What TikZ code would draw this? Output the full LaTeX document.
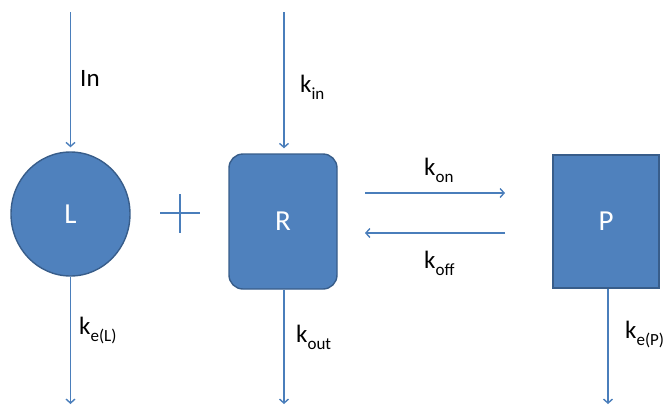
\documentclass[tikz,border=0pt]{standalone}
\usepackage{fontspec}
\setmainfont{Carlito}
\usetikzlibrary{shapes.geometric,arrows.meta}
\definecolor{boxfill}{HTML}{4F81BD}
\definecolor{boxedge}{HTML}{385D8A}
\definecolor{arrcol}{HTML}{4A7EBB}
\newcommand{\ksb}[1]{k\raisebox{-0.28em}{\fontsize{17}{17}\selectfont #1}}
\begin{document}
\begin{tikzpicture}[x=1pt,y=-1pt,
  blob/.style={fill=boxfill,draw=boxedge,line width=1.4pt,text=white,font=\fontsize{29}{29}\selectfont,inner sep=0pt},
  arr/.style={draw=arrcol,line width=1.6pt,-{Straight Barb[length=4pt,width=9pt,line width=1.4pt]}},
  lbl/.style={font=\fontsize{25}{25}\selectfont,inner sep=0pt,text=black}]
\useasboundingbox (0,0) rectangle (665,405);
\node[blob,ellipse,minimum width=119pt,minimum height=124pt] (L) at (70.5,214) {L};
\node[blob,rectangle,rounded corners=14pt,minimum width=108pt,minimum height=135pt] (R) at (283,221.5) {R};
\node[blob,rectangle,minimum width=106pt,minimum height=133pt] (P) at (606,221.5) {P};
% plus sign
\draw[arrcol,line width=1.6pt] (160,213) -- (200,213) (180,194) -- (180,233);
% free ends
\coordinate (Lin) at (70.5,12);
\coordinate (Lout) at (70.5,404);
\coordinate (Rin) at (284,12);
\coordinate (Rout) at (284,404);
\coordinate (Pout) at (608,404);
\coordinate (kon1) at (365,193);
\coordinate (kon2) at (505,193);
\coordinate (koff1) at (505,233);
\coordinate (koff2) at (365,233);
\draw[arr,shorten >=4pt] (Lin) -- (L.north);
\draw[arr] (L.south) -- (Lout);
\draw[arr,shorten >=5pt] (Rin) -- (R.north -| Rin);
\draw[arr] (R.south -| Rout) -- (Rout);
\draw[arr] (P.south -| Pout) -- (Pout);
\draw[arr] (kon1) -- (kon2);
\draw[arr] (koff1) -- (koff2);
% labels
\node[lbl,anchor=west] (tIn) at (80,78) {In};
\node[lbl,anchor=west] (tkin) at (300,87) {\ksb{in}};
\node[lbl,anchor=west] (tkeL) at (79,330) {\ksb{e(L)}};
\node[lbl,anchor=west] (tkout) at (296,337) {\ksb{out}};
\node[lbl,anchor=west] (tkon) at (424,170) {\ksb{on}};
\node[lbl,anchor=west] (tkoff) at (424,263) {\ksb{off}};
\node[lbl,anchor=west] (tkeP) at (625,334) {\ksb{e(P)}};
\end{tikzpicture}
\end{document}
